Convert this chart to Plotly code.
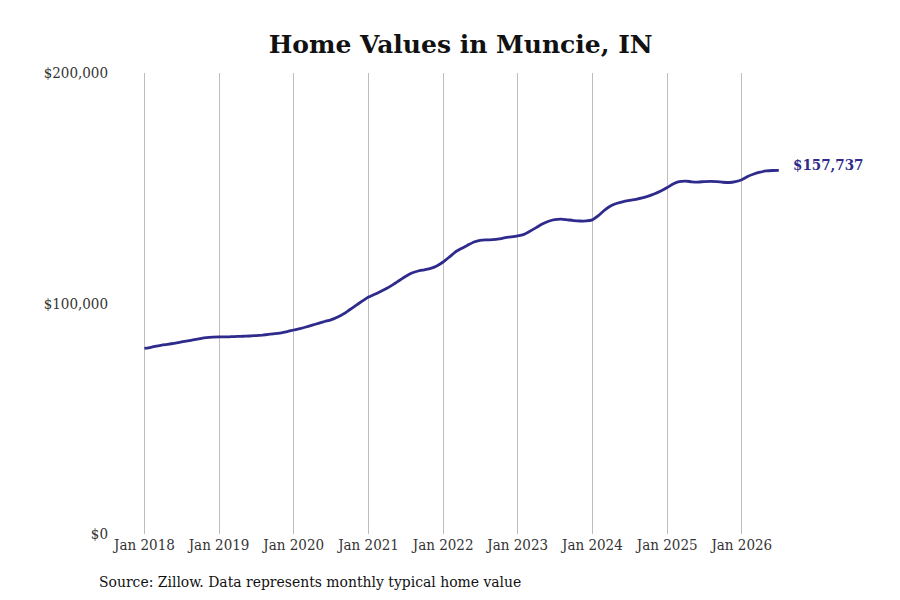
import pandas as pd
import plotly.graph_objects as go

months = pd.date_range("2018-01-01", "2026-07-01", freq="MS")

values_2018 = [80500, 81000, 81500, 82000, 82400, 82800, 83300, 83800, 84300, 84800, 85200, 85400]
values_2019 = [85500, 85500, 85600, 85700, 85800, 85900, 86100, 86300, 86600, 86900, 87300, 87800]
values_2020 = [88500, 89100, 89800, 90600, 91400, 92200, 92900, 94000, 95500, 97300, 99200, 101000]
values_2021 = [102800, 104000, 105200, 106600, 108200, 110000, 111700, 113200, 114100, 114600, 115200, 116300]
values_2022 = [118000, 120200, 122300, 123900, 125300, 126700, 127400, 127600, 127700, 128000, 128600, 128900]
values_2023 = [129300, 130000, 131300, 132900, 134500, 135700, 136400, 136600, 136300, 136000, 135800, 135800]
values_2024 = [136300, 138200, 140500, 142400, 143500, 144200, 144700, 145200, 145800, 146600, 147600, 148800]
values_2025 = [150300, 152000, 152900, 153100, 152800, 152700, 152900, 153000, 152900, 152600, 152500, 152900]
values_2026 = [153700, 155200, 156200, 157000, 157500, 157700, 157737]

values = (values_2018 + values_2019 + values_2020 + values_2021 + values_2022
          + values_2023 + values_2024 + values_2025 + values_2026)

tick_dates = pd.date_range("2018-01-01", "2026-01-01", freq="YS")
tick_labels = [f"Jan {d.year}" for d in tick_dates]
y_ticks = [0, 100000, 200000]
y_labels = ["$0", "$100,000", "$200,000"]

LINE = "#2e2b8c"
FONT = "DejaVu Serif Condensed, DejaVu Serif, serif"

fig = go.Figure()
fig.add_trace(go.Scatter(
    x=months, y=values, mode="lines",
    line=dict(color=LINE, width=2.8, shape="spline", smoothing=0.6),
    hoverinfo="skip", showlegend=False,
))

fig.add_annotation(
    x=months[-1], y=values[-1], xref="x", yref="y",
    text=f"<b>${values[-1]:,}</b>", showarrow=False,
    xanchor="left", xshift=12, yshift=5,
    font=dict(family=FONT, size=15, color=LINE),
)

fig.add_annotation(
    x=-0.0236, y=-0.104, xref="paper", yref="paper", xanchor="left", yanchor="middle",
    text="Source: Zillow. Data represents monthly typical home value",
    showarrow=False, font=dict(family=FONT, size=15.5, color="#111111"),
)

fig.update_layout(
    width=900, height=600,
    paper_bgcolor="white", plot_bgcolor="white",
    margin=dict(l=107, r=28, t=65, b=74),
    title=dict(text="<b>Home Values in Muncie, IN</b>", x=0.503, xanchor="center",
               y=0.94, yanchor="middle",
               font=dict(family="DejaVu Serif", size=25, color="#111111")),
    font=dict(family=FONT, size=15, color="#333333"),
    xaxis=dict(
        range=["2017-08-10", "2027-11-08"],
        tickvals=tick_dates, ticktext=tick_labels,
        showgrid=True, gridcolor="#bdbdbd", gridwidth=1,
        showline=False, zeroline=False, ticks="",
        tickfont=dict(family=FONT, size=15, color="#333333"),
    ),
    yaxis=dict(
        range=[0, 200000], tickvals=y_ticks, ticktext=y_labels,
        showgrid=False, zeroline=False, showline=False, ticks="",
        ticklabelstandoff=6,
        tickfont=dict(family=FONT, size=15, color="#333333"),
    ),
)

fig.write_html("out.html")
